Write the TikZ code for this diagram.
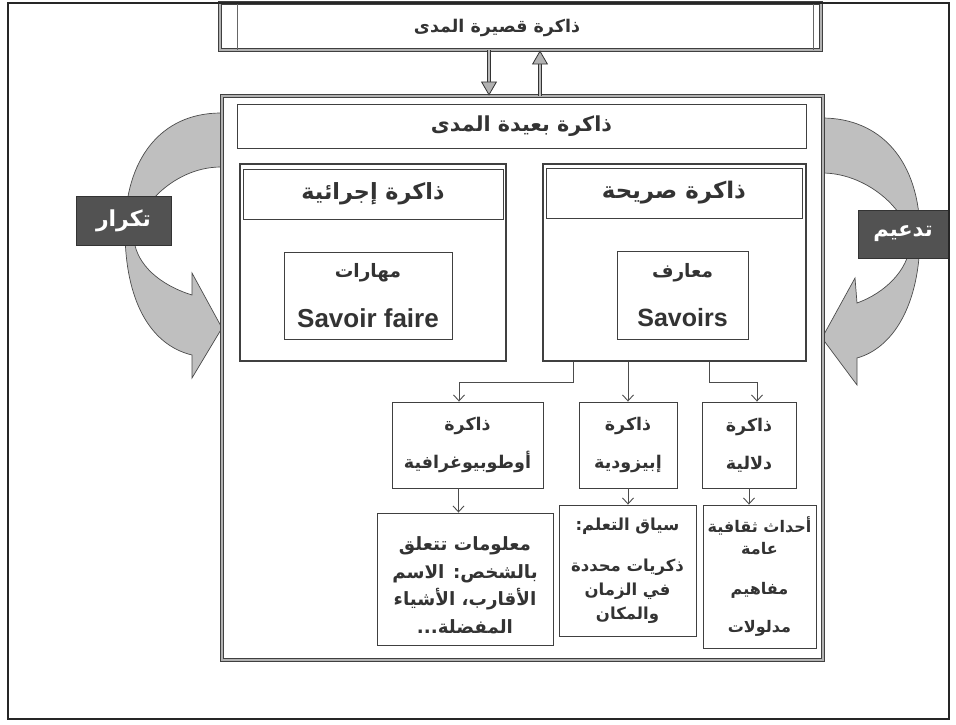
\documentclass[tikz,border=0pt]{standalone}
\usepackage{fontspec}
\usetikzlibrary{arrows.meta}
\TeXXeTstate=1
\newfontfamily\arfont[Script=Arabic]{DejaVu Sans}
\newfontfamily\latfont{Liberation Sans}
\newcommand\AR[1]{{\arfont\bfseries\beginR #1\endR}}
\newcommand\FS[2]{\fontsize{#1}{#2}\selectfont}
\definecolor{ink}{gray}{0.2}
\begin{document}
\begin{tikzpicture}[x=1pt,y=-1pt,
  frame/.style={draw=black!85, line width=1.8pt},
  bigframe/.style={draw=black!75, line width=0.9pt, double=gray!60, double distance=2.2pt, inner sep=0pt},
  box/.style={draw=black!75, line width=0.9pt, inner sep=0pt, text=ink, align=center},
  secbox/.style={draw=black!75, line width=1.4pt, inner sep=0pt},
  br/.style={draw=black!70, line width=0.9pt, -{Straight Barb[length=6pt,width=11pt]}},
  bigarrow/.style={draw=black!80, line width=0.8pt, double=gray!55, double distance=2pt, -{Triangle[length=14pt,width=16pt,fill=gray!60]}},
  curved/.style={draw=black!70, line width=0.7pt, fill=gray!50},
  tag/.style={fill=black!68, draw=black!80, line width=0.5pt, text=white, inner sep=0pt}
]
\useasboundingbox (0,0) rectangle (956,724);
\fill[white] (0,0) rectangle (956,724);

% curved arrows
\draw[curved] (221,113) .. controls (160,113) and (125,160) .. (125,230)
  .. controls (125,300) and (150,345) .. (192,355)
  -- (192,378) -- (222,328) -- (192,273) -- (192,295)
  .. controls (160,285) and (137,265) .. (134,240)
  .. controls (132,215) and (170,167) .. (221,167) -- cycle;
\draw[curved] (822,118) .. controls (880,118) and (920,160) .. (920,235)
  .. controls (920,305) and (893,348) .. (857,358)
  -- (857,385) -- (822,338) -- (855,278) -- (857,303)
  .. controls (885,293) and (908,270) .. (910,245)
  .. controls (912,215) and (870,173) .. (822,173) -- cycle;

% top (short-term) box
\node[bigframe, minimum width=601, minimum height=47] (top) at (520.5,26.5) {};
\draw[black!60, line width=0.6pt] (237,3) -- (237,50) (813,3) -- (813,50);
\node[text=ink, font=\FS{17.5}{20}] (toptxt) at (497,28) {\AR{ذاكرة قصيرة المدى}};

% long-term box
\node[bigframe, fill=white, minimum width=601, minimum height=564] (big) at (522.5,378) {};
\node[box, minimum width=569, minimum height=44, font=\FS{20.7}{24}] (bigtitle) at (521.5,126) {\AR{ذاكرة بعيدة المدى}};

% procedural
\node[secbox, minimum width=266, minimum height=197] (proc) at (373,262.5) {};
\node[box, minimum width=260, minimum height=50, font=\FS{22.3}{26}] (proctitle) at (373,194) {\AR{ذاكرة إجرائية}};
\node[box, minimum width=168, minimum height=87, font=\FS{18.5}{22}] (procin) at (368,295.5) {\AR{مهارات}\\[25pt]{\latfont\bfseries\FS{26}{30}Savoir faire}};

% declarative
\node[secbox, minimum width=263, minimum height=197] (decl) at (674.5,262.5) {};
\node[box, minimum width=256, minimum height=50, font=\FS{22.9}{26}] (decltitle) at (674,193) {\AR{ذاكرة صريحة}};
\node[box, minimum width=131, minimum height=88, font=\FS{18.5}{22}] (declin) at (682.5,295) {\AR{معارف}\\[25pt]{\latfont\bfseries\FS{25}{30}Savoirs}};

% middle boxes
\node[box, minimum width=151, minimum height=86, font=\FS{17.5}{38}] (automid) at (467.5,445) {\AR{ذاكرة}\\\AR{أوطوبيوغرافية}};
\node[box, minimum width=98, minimum height=86, font=\FS{17.5}{38}] (epimid) at (628,445) {\AR{ذاكرة}\\\AR{إبيزودية}};
\node[box, minimum width=94, minimum height=86, font=\FS{17.5}{38}] (semmid) at (749,445) {\AR{ذاكرة}\\\AR{دلالية}};

% bottom boxes
\node[box, minimum width=176, minimum height=132, font=\FS{18.3}{27.5}] (autobot) at (465,579) {\rule{0pt}{26pt}\AR{معلومات تتعلق}\\\AR{بالشخص: الاسم}\\\AR{الأقارب، الأشياء}\\\AR{المفضلة...}};
\node[box, minimum width=137, minimum height=131, font=\FS{16.5}{24}] (epibot) at (627.5,570.5) {\AR{سياق التعلم:}\\[17pt]\AR{ذكريات محددة}\\\AR{في الزمان}\\\AR{والمكان}};
\node[box, minimum width=113, minimum height=143, font=\FS{16}{22}] (sembot) at (759.5,576.5) {\AR{أحداث ثقافية}\\\AR{عامة}\\[18pt]\AR{مفاهيم}\\[16pt]\AR{مدلولات}};

% tags
\node[tag, minimum width=95, minimum height=49, font=\FS{22}{26}] (tagL) at (123.5,220.5) {\AR{تكرار}};
\node[tag, minimum width=90, minimum height=48, font=\FS{21}{25}] (tagR) at (903,234) {\AR{تدعيم}};

% connectors
\draw[bigarrow] ([xshift=-31.5pt]top.south) -- ([xshift=-31.5pt]top.south |- big.north);
\draw[bigarrow] ([xshift=19.5pt]top.south |- big.north) -- ([xshift=19.5pt]top.south);
\draw[br] ([xshift=-101.5pt]decl.south) |- ([xshift=-8.5pt,yshift=19pt]automid.north) -- ([xshift=-8.5pt]automid.north);
\draw[br] (decl.south -| epimid.north) -- (epimid.north);
\draw[br] ([xshift=35pt]decl.south) |- ([xshift=8pt,yshift=19pt]semmid.north) -- ([xshift=8pt]semmid.north);
\draw[br] ([xshift=-9pt]automid.south) -- ([xshift=-9pt]automid.south |- autobot.north);
\draw[br] (epimid.south) -- (epimid.south |- epibot.north);
\draw[br] (semmid.south) -- (semmid.south |- sembot.north);

% outer frame
\draw[frame] (8,3) rectangle (949,719);
\end{tikzpicture}
\end{document}
